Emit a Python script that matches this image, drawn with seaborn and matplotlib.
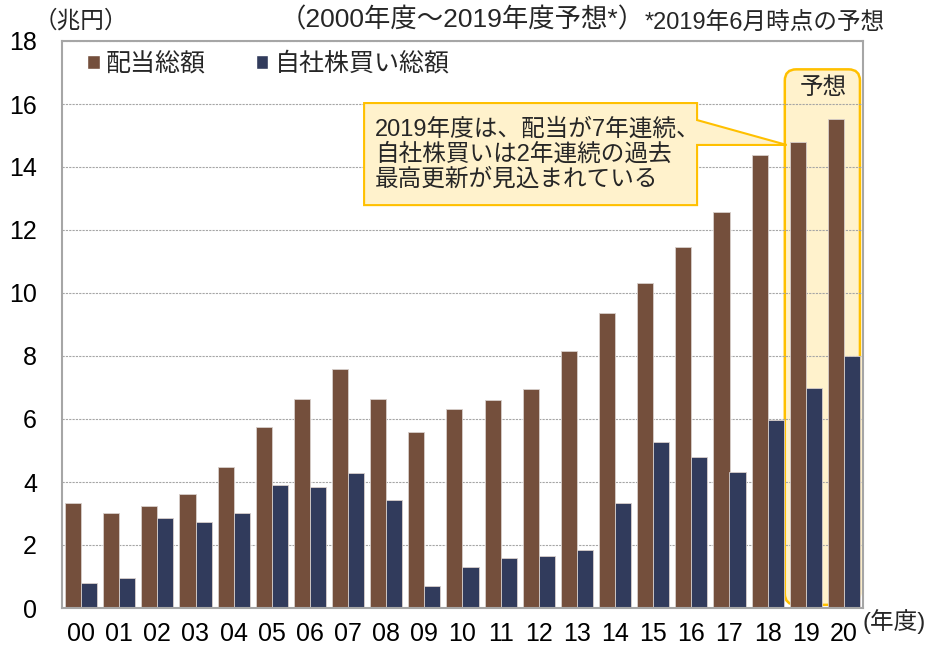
import matplotlib
matplotlib.use('Agg')
import matplotlib.pyplot as plt
from matplotlib.patches import FancyBboxPatch, Polygon, Patch
import pandas as pd
import seaborn as sns

years = ['00', '01', '02', '03', '04', '05', '06', '07', '08', '09', '10',
         '11', '12', '13', '14', '15', '16', '17', '18', '19', '20']
dividends = [3.33, 3.02, 3.24, 3.62, 4.48, 5.75, 6.63, 7.59, 6.63, 5.59, 6.31,
             6.60, 6.95, 8.16, 9.37, 10.32, 11.46, 12.57, 14.38, 14.79, 15.52]
buybacks = [0.79, 0.95, 2.86, 2.73, 3.02, 3.90, 3.84, 4.28, 3.44, 0.70, 1.29,
            1.59, 1.65, 1.84, 3.33, 5.27, 4.79, 4.32, 5.97, 6.98, 8.00]
series_names = ['配当総額', '自社株買い総額']
yticks = [0, 2, 4, 6, 8, 10, 12, 14, 16, 18]

brown = '#744F3C'
navy = '#313B5C'
gold = '#FFC000'
cream = '#FFF2CC'

df = pd.DataFrame({
    'year': years * 2,
    'series': [series_names[0]] * len(years) + [series_names[1]] * len(years),
    'value': dividends + buybacks,
})

sns.set_style('white')
plt.rcParams['font.family'] = ['Liberation Sans', 'Noto Sans CJK JP', 'DejaVu Sans']

W, H = 932, 648
fig = plt.figure(figsize=(W / 100, H / 100), dpi=100)
ax = fig.add_axes([62 / W, 1 - 608 / H, (863 - 62) / W, (608 - 41) / H])

sns.barplot(data=df, x='year', y='value', hue='series', palette=[brown, navy],
            width=0.84, saturation=1, edgecolor='#D8CFCB', linewidth=0.6,
            legend=False, ax=ax)

ax.set_xlim(-0.5, len(years) - 0.5)
ax.set_ylim(0, 18)
ax.set_yticks(yticks)
ax.set_xlabel('')
ax.set_ylabel('')
ax.set_axisbelow(True)
ax.yaxis.grid(True, color='#A6A6A6', linestyle=(0, (2, 1)), linewidth=0.8)
ax.xaxis.grid(False)
for s in ax.spines.values():
    s.set_color('#A6A6A6')
    s.set_linewidth(1.5)
ax.tick_params(axis='both', length=0, labelsize=18, colors='black')
ax.tick_params(axis='x', pad=10)
ax.tick_params(axis='y', pad=18)

# forecast region (2019, 2020)
i19 = years.index('19')
i20 = years.index('20')
fc = FancyBboxPatch((i19 - 0.55, 0.1), (i20 + 0.42) - (i19 - 0.55), 17.0,
                    boxstyle='round,pad=0,rounding_size=0.3', mutation_aspect=1.2,
                    facecolor=cream, edgecolor=gold, linewidth=1.8, zorder=0.2)
ax.add_patch(fc)
ax.text((i19 + i20) / 2 - 0.05, 16.5, '予想', ha='center', va='center', fontsize=17)

# callout box
bx0, bx1, by0, by1 = 7.42, 16.15, 12.79, 16.03
tip = (18.5, 14.70)
callout = Polygon([(bx0, by1), (bx1, by1), (bx1, 15.49), tip, (bx1, 14.70),
                   (bx1, by0), (bx0, by0)], closed=True,
                  facecolor=cream, edgecolor=gold, linewidth=1.5, zorder=5)
ax.add_patch(callout)
ax.text(bx0 + 0.28, (by0 + by1) / 2, '2019年度は、配当が7年連続、\n自社株買いは2年連続の過去\n最高更新が見込まれている',
        ha='left', va='center', fontsize=17, linespacing=1.15, zorder=6)

handles = [Patch(facecolor=brown), Patch(facecolor=navy)]
ax.legend(handles, series_names, loc='upper left', bbox_to_anchor=(87 / W, 1 - 52 / H),
          bbox_transform=fig.transFigure, frameon=False, ncol=2, fontsize=18,
          handlelength=0.5, handleheight=0.5, handletextpad=0.25, columnspacing=2.0,
          borderpad=0, borderaxespad=0)

fig.text(34 / W, 1 - 21 / H, '（兆円）', ha='left', va='center', fontsize=17)
fig.text(462 / W, 1 - 20 / H, '（2000年度～2019年度予想*）', ha='center', va='center', fontsize=19)
fig.text(645 / W, 1 - 23 / H, '*2019年6月時点の予想', ha='left', va='center', fontsize=17)
fig.text(862 / W, 1 - 622 / H, '(年度)', ha='left', va='center', fontsize=17)

fig.savefig('out.png', dpi=100)
